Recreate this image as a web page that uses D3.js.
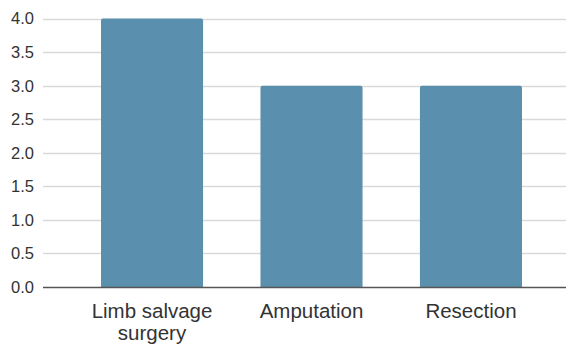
<!DOCTYPE html>
<html><head><meta charset="utf-8">
<script src="https://cdn.jsdelivr.net/npm/d3@7"></script>
<style>body{margin:0;background:#fff}svg{display:block}</style>
</head><body>
<svg id="c" width="572" height="348"></svg>
<script>
const categories = [["Limb salvage", "surgery"], ["Amputation"], ["Resection"]];
const values = [4, 3, 3];
const yTicks = [0, 0.5, 1, 1.5, 2, 2.5, 3, 3.5, 4];

const svg = d3.select("#c");
const font = "'Liberation Sans', Arial, sans-serif";
const gx0 = 43, gx1 = 566;
const y = d3.scaleLinear().domain([0, 4]).range([287, 18.5]);
const x = d3.scaleBand().domain(d3.range(categories.length)).range([101, 522]).paddingInner(0.36).paddingOuter(0);

svg.append("g").selectAll("line").data(yTicks.filter(d => d > 0)).join("line")
  .attr("x1", gx0).attr("x2", gx1)
  .attr("y1", d => Math.round(y(d)) + 0.5).attr("y2", d => Math.round(y(d)) + 0.5)
  .attr("stroke", "#d9d9d9").attr("stroke-width", 1.5);

svg.append("g").selectAll("text").data(yTicks).join("text")
  .attr("x", 34).attr("y", d => y(d)).attr("dy", "0.36em")
  .attr("text-anchor", "end").attr("font-family", font).attr("font-size", 16.5)
  .attr("fill", "#333").text(d => d.toFixed(1));

svg.append("g").selectAll("path").data(values).join("path")
  .attr("d", (d, i) => {
    const x0 = x(i), w = x.bandwidth(), yt = y(d), yb = y(0), r = 2;
    return `M${x0},${yb}V${yt + r}Q${x0},${yt} ${x0 + r},${yt}H${x0 + w - r}Q${x0 + w},${yt} ${x0 + w},${yt + r}V${yb}Z`;
  })
  .attr("fill", "#5a8fad");

svg.append("line").attr("x1", gx0).attr("x2", gx1).attr("y1", y(0) + 0.5).attr("y2", y(0) + 0.5)
  .attr("stroke", "#555").attr("stroke-width", 1.5);

const lab = svg.append("g").selectAll("text").data(categories).join("text")
  .attr("x", (d, i) => x(i) + x.bandwidth() / 2).attr("y", 318)
  .attr("text-anchor", "middle").attr("font-family", font).attr("font-size", 20.5)
  .attr("fill", "#333");
lab.selectAll("tspan").data(d => d).join("tspan")
  .attr("x", function() { return this.parentNode.getAttribute("x"); })
  .attr("dy", (d, j) => j === 0 ? 0 : 22).text(d => d);
</script>
</body></html>
